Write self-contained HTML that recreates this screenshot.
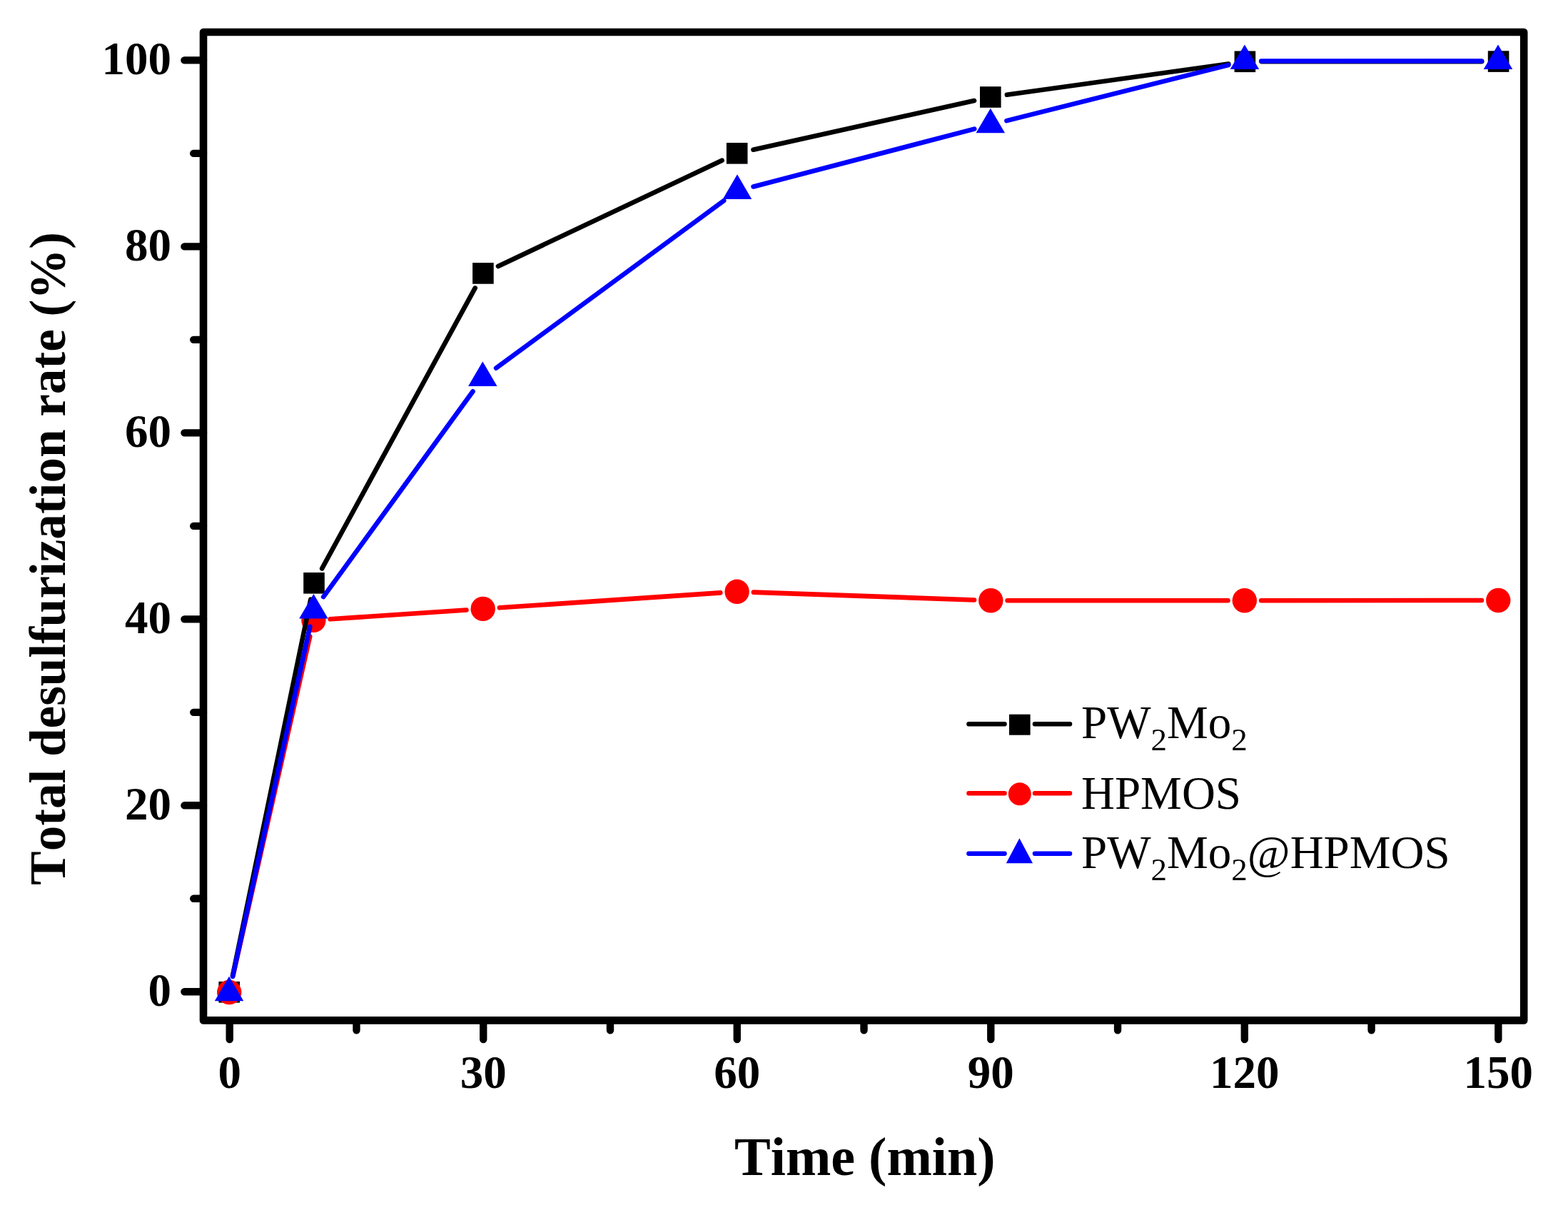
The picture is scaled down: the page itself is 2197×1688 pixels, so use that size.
<!DOCTYPE html><html><head><meta charset="utf-8"><title>Total desulfurization rate</title><style>html,body{margin:0;padding:0;background:#fff;}body{width:2197px;height:1688px;overflow:hidden;}svg{display:block;}text{font-family:"Liberation Serif","Times New Roman",serif;font-kerning:none;}</style></head><body>
<svg width="2197" height="1688" viewBox="0 0 2197 1688">
<rect width="2197" height="1688" fill="#fff"/>
<g fill="#000"><rect x="306.4" y="1375" width="29.6" height="29.6"/><rect x="425.2" y="802" width="29.6" height="29.6"/><rect x="662.1" y="368.1" width="29.6" height="29.6"/><rect x="1017.9" y="200" width="29.6" height="29.6"/><rect x="1373" y="121.2" width="29.6" height="29.6"/><rect x="1729.6" y="71.5" width="29.6" height="29.6"/><rect x="2084.8" y="71.3" width="29.6" height="29.6"/></g>
<g fill="#f00"><circle cx="321.2" cy="1390" r="17.2"/><circle cx="439.4" cy="868.8" r="17.2"/><circle cx="676.7" cy="852.9" r="17.2"/><circle cx="1032.6" cy="828.8" r="17.2"/><circle cx="1388.29" cy="841.24" r="17.2"/><circle cx="1743.82" cy="841.24" r="17.2"/><circle cx="2099.3" cy="841" r="17.2"/></g>
<g fill="none" stroke-width="6.6" stroke-linecap="round" stroke-linejoin="round">
<path stroke="#000" d="M325.93 1366.99L435.27 839.61M451.17 796.35L665.73 403.35M697.97 372.95L1011.63 224.75M1055.45 209.75L1365.05 141.05M1410.88 132.78L1721.32 89.52M1767.7 86.29L2076.3 86.11"/>
<path stroke="#f00" d="M326.35 1367.28L434.25 891.52M462.65 867.24L653.45 854.46M699.95 851.33L1009.35 830.37M1055.89 829.61L1365 840.43M1411.59 841.24L1720.52 841.24M1767.12 841.23L2076 841.02"/>
<path stroke="#00f" d="M326.03 1368.02L434.37 877.72M453.11 836.13L662.59 548.31M695.08 515.67L1014.22 281.16M1055.54 261.48L1365.26 180.65M1410.4 169.1L1721.3 91.13M1767.2 85.47L2075.7 85.56"/>
</g>
<g fill="#00f"><path d="M321 1367.7L341.25 1402.3L300.75 1402.3Z"/><path d="M439.4 831.9L459.65 866.5L419.15 866.5Z"/><path d="M676.3 506.4L696.55 541L656.05 541Z"/><path d="M1033 244.3L1053.25 278.9L1012.75 278.9Z"/><path d="M1387.8 151.7L1408.05 186.3L1367.55 186.3Z"/><path d="M1743.9 62.4L1764.15 97L1723.65 97Z"/><path d="M2099 62.5L2119.25 97.1L2078.75 97.1Z"/></g>
<rect x="285" y="45" width="1850.2" height="1384.4" fill="none" stroke="#000" stroke-width="10.6" stroke-linejoin="round"/>
<path d="M285 1389.3H258.4M285 1128.32H258.4M285 867.34H258.4M285 606.36H258.4M285 345.38H258.4M285 84.4H258.4M285 1258.81H271.2M285 997.83H271.2M285 736.85H271.2M285 475.87H271.2M285 214.89H271.2M321.7 1429.4V1456M677.23 1429.4V1456M1032.76 1429.4V1456M1388.29 1429.4V1456M1743.82 1429.4V1456M2099.35 1429.4V1456M499.47 1429.4V1443.2M855 1429.4V1443.2M1210.53 1429.4V1443.2M1566.06 1429.4V1443.2M1921.59 1429.4V1443.2" stroke="#000" stroke-width="10.4" stroke-linecap="round" fill="none"/>
<g font-weight="bold" font-size="65" fill="#000">
<text x="240" y="1408.7" text-anchor="end">0</text>
<text x="240" y="1147.72" text-anchor="end">20</text>
<text x="240" y="886.74" text-anchor="end">40</text>
<text x="240" y="625.76" text-anchor="end">60</text>
<text x="240" y="364.78" text-anchor="end">80</text>
<text x="240" y="103.8" text-anchor="end">100</text>
<text x="321.7" y="1524" text-anchor="middle">0</text>
<text x="677.23" y="1524" text-anchor="middle">30</text>
<text x="1032.76" y="1524" text-anchor="middle">60</text>
<text x="1388.29" y="1524" text-anchor="middle">90</text>
<text x="1743.82" y="1524" text-anchor="middle">120</text>
<text x="2099.35" y="1524" text-anchor="middle">150</text>
</g>
<text x="1211.8" y="1646.4" text-anchor="middle" font-weight="bold" font-size="76.1">Time (min)</text>
<text transform="translate(91 782.4) rotate(-90)" text-anchor="middle" font-weight="bold" font-size="71.15">Total desulfurization rate (%)</text>
<path d="M1357.5 1014.3H1407.5M1450 1014.3H1499" stroke="#000" stroke-width="6.6" stroke-linecap="round" fill="none"/>
<path d="M1357.5 1111.2H1407.5M1450 1111.2H1499" stroke="#f00" stroke-width="6.6" stroke-linecap="round" fill="none"/>
<path d="M1357.5 1195.7H1407.5M1450 1195.7H1499" stroke="#00f" stroke-width="6.6" stroke-linecap="round" fill="none"/>
<rect x="1414" y="1000.7" width="29.6" height="29" fill="#000"/>
<circle cx="1428.8" cy="1112.3" r="16" fill="#f00"/>
<path d="M1428.4 1174.3L1447 1209.3L1409.8 1209.3Z" fill="#00f"/>
<g font-size="65" fill="#000">
<text x="1515" y="1034.3">PW<tspan font-size="45" dy="17">2</tspan><tspan dy="-17">Mo</tspan><tspan font-size="45" dy="17">2</tspan></text>
<text x="1515" y="1132.9">HPMOS</text>
<text x="1515" y="1215.7">PW<tspan font-size="45" dy="17">2</tspan><tspan dy="-17">Mo</tspan><tspan font-size="45" dy="17">2</tspan><tspan dy="-17">@HPMOS</tspan></text>
</g>
</svg></body></html>
